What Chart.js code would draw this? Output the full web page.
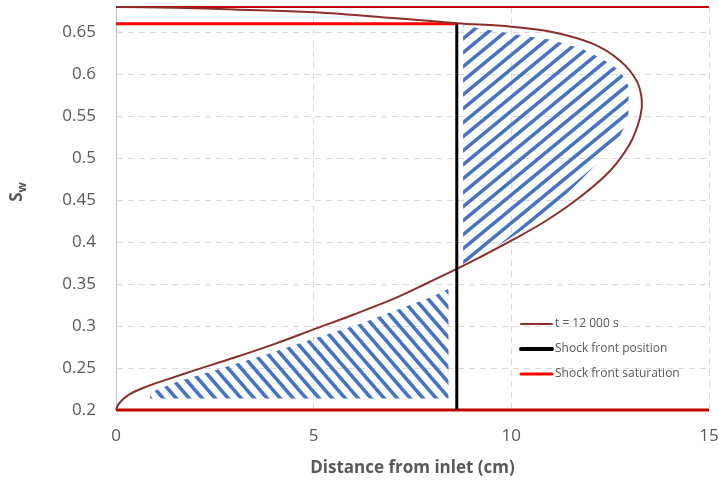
<!DOCTYPE html>
<html>
<head>
<meta charset="utf-8">
<script src="https://cdn.jsdelivr.net/npm/chart.js@4.4.0/dist/chart.umd.min.js"></script>
<style>
  html, body { margin: 0; padding: 0; background: #ffffff; }
  #wrap { width: 719px; height: 482px; }
</style>
</head>
<body>
<div id="wrap"><canvas id="chart" width="719" height="482"></canvas></div>
<script>
// Saturation profile at t = 12 000 s (distance in cm, water saturation Sw)
const profileX  = [0.00, 0.08, 0.30, 0.70, 1.30, 2.00, 3.00, 4.00, 5.00, 6.00, 7.00, 7.80, 8.62,
                   9.21, 10.01, 10.90, 11.74, 12.50, 13.00, 13.26, 13.30, 13.17, 12.75, 12.07,
                   11.06, 10.00, 8.62, 7.00, 5.00, 3.00, 1.50, 0.00];
const profileSw = [0.200, 0.208, 0.2175, 0.2265, 0.2365, 0.2475, 0.2625, 0.2785, 0.296, 0.3135, 0.332, 0.3495, 0.368,
                   0.382, 0.402, 0.426, 0.4536, 0.485, 0.517, 0.549, 0.569, 0.592, 0.616, 0.636,
                   0.650, 0.6565, 0.6607, 0.667, 0.6738, 0.677, 0.679, 0.680];

// Shock front
const shockFrontX  = 8.62;
const shockFrontSw = 0.66;

// Saturation range of the displacement (initial and injected)
const boundarySw = [0.2, 0.68];

// Equal-area regions on either side of the shock
const upperAreaX  = [8.78, 8.78, 10.00, 11.00, 11.80, 12.30, 12.75, 12.97, 12.96, 12.70, 12.41, 11.74, 11.06, 10.14, 9.55, 8.96];
const upperAreaSw = [0.374, 0.658, 0.648, 0.641, 0.630, 0.618, 0.604, 0.585, 0.547, 0.522, 0.505, 0.473, 0.442, 0.410, 0.392, 0.379];
const lowerAreaX  = [0.86, 0.86, 1.53, 2.63, 3.80, 5.00, 6.20, 7.18, 8.00, 8.41, 8.41];
const lowerAreaSw = [0.2136, 0.2205, 0.2333, 0.249, 0.266, 0.285, 0.303, 0.3207, 0.335, 0.3445, 0.2136];

// Axes
const xTickValues = [0, 5, 10, 15];
const yTickValues = [0.2, 0.25, 0.3, 0.35, 0.4, 0.45, 0.5, 0.55, 0.6, 0.65];
const xRange = [0, 15];
const seriesLabels = ['t = 12 000 s', 'Shock front position', 'Shock front saturation'];
const xTitle = 'Distance from inlet (cm)';

const zip = (xs, ys) => xs.map((x, i) => ({ x: x, y: ys[i] }));

// Seamless diagonal hatch tile
function stripes(dir, w, h, width, color) {
  const c = document.createElement('canvas');
  c.width = w; c.height = h;
  const g = c.getContext('2d');
  g.strokeStyle = color;
  g.lineWidth = width;
  for (let k = -2; k <= 2; k++) {
    g.beginPath();
    if (dir === '/') { g.moveTo(k * w - w, 2 * h); g.lineTo(k * w + 2 * w, -h); }
    else { g.moveTo(k * w - w, -h); g.lineTo(k * w + 2 * w, 2 * h); }
    g.stroke();
  }
  return g.createPattern(c, 'repeat');
}

const TEXT = '#595959';
const FONT = "'Open Sans', 'Liberation Sans', sans-serif";

// Legend drawn inside the plot area
const inlineLegend = {
  id: 'inlineLegend',
  afterDraw(chart, args, o) {
    const ctx = chart.ctx;
    const items = chart.data.datasets.filter(d => d.legendOrder !== undefined)
      .sort((a, b) => a.legendOrder - b.legendOrder);
    ctx.save();
    ctx.font = o.font;
    ctx.textBaseline = 'middle';
    items.forEach((d, i) => {
      const y = o.y + i * o.row;
      ctx.beginPath();
      ctx.strokeStyle = d.borderColor;
      ctx.lineWidth = d.legendWidth || d.borderWidth;
      ctx.lineCap = 'round';
      ctx.moveTo(o.x, y);
      ctx.lineTo(o.x + o.sample, y);
      ctx.stroke();
      ctx.fillStyle = TEXT;
      ctx.fillText(d.label, o.x + o.sample + o.gap, y);
    });
    ctx.restore();
  }
};

// Rotated y-axis title with subscript: S_w
const swTitle = {
  id: 'swTitle',
  afterDraw(chart, args, o) {
    const ctx = chart.ctx;
    ctx.save();
    ctx.translate(o.x, o.y);
    ctx.rotate(-Math.PI / 2);
    ctx.fillStyle = TEXT;
    ctx.textBaseline = 'alphabetic';
    ctx.font = 'bold 17px ' + FONT;
    const sw = ctx.measureText('S').width;
    ctx.font = 'bold 12px ' + FONT;
    const ww = ctx.measureText('w').width;
    const x0 = -(sw + ww) / 2;
    ctx.font = 'bold 17px ' + FONT;
    ctx.fillText('S', x0, 0);
    ctx.font = 'bold 12px ' + FONT;
    ctx.fillText('w', x0 + sw, 4);
    ctx.restore();
  }
};

const gridColor = '#d9d9d9';
const fmt = v => String(Math.round(v * 100) / 100);

new Chart(document.getElementById('chart'), {
  type: 'line',
  data: {
    datasets: [
      {
        label: seriesLabels[1], legendOrder: 1, legendWidth: 4,
        data: [{ x: shockFrontX, y: boundarySw[0] }, { x: shockFrontX, y: shockFrontSw }],
        borderColor: '#000000', borderWidth: 3, pointRadius: 0, fill: false, clip: false
      },
      {
        label: seriesLabels[0], legendOrder: 0,
        data: zip(profileX, profileSw),
        borderColor: '#8b2f27', borderWidth: 2, pointRadius: 0, fill: false, tension: 0.35, clip: false
      },
      {
        label: seriesLabels[2], legendOrder: 2, legendWidth: 3,
        data: [{ x: xRange[0], y: shockFrontSw }, { x: shockFrontX, y: shockFrontSw }],
        borderColor: '#ff0000', borderWidth: 3, pointRadius: 0, fill: false, clip: false
      },
      {
        data: [{ x: xRange[0], y: boundarySw[0] }, { x: xRange[1], y: boundarySw[0] }],
        borderColor: '#c00000', borderWidth: 3, pointRadius: 0, fill: false, clip: false
      },
      {
        data: [{ x: xRange[0], y: boundarySw[1] }, { x: xRange[1], y: boundarySw[1] }],
        borderColor: '#c00000', borderWidth: 2, pointRadius: 0, fill: false, clip: false
      },
      {
        data: zip(upperAreaX, upperAreaSw),
        borderColor: 'rgba(0,0,0,0)', borderWidth: 0, pointRadius: 0,
        fill: 'shape', backgroundColor: stripes('/', 17, 14, 3.5, '#4472c4')
      },
      {
        data: zip(lowerAreaX, lowerAreaSw),
        borderColor: 'rgba(0,0,0,0)', borderWidth: 0, pointRadius: 0,
        fill: 'shape', backgroundColor: stripes('\\', 13, 15, 3.5, '#4472c4')
      }
    ]
  },
  options: {
    responsive: false,
    animation: false,
    devicePixelRatio: 1,
    layout: { padding: { left: 0, right: 10, top: 7, bottom: 0 } },
    plugins: {
      legend: { display: false },
      tooltip: { enabled: false },
      inlineLegend: { x: 521, y: 324, row: 25, sample: 31, gap: 3, font: '12px ' + FONT },
      swTitle: { x: 22, y: 192 }
    },
    scales: {
      x: {
        type: 'linear',
        min: xRange[0], max: xRange[1],
        afterBuildTicks: s => { s.ticks = xTickValues.map(v => ({ value: v })); },
        afterFit: s => { s.height = 72; s.paddingLeft = 0; s.paddingRight = 0; },
        grid: { color: c => (c.tick && c.tick.value === 0 ? 'rgba(0,0,0,0)' : gridColor), lineWidth: 1, drawTicks: false },
        border: { display: false, dash: [6, 5] },
        ticks: { color: TEXT, font: { family: FONT, size: 17 }, padding: 16, maxRotation: 0, callback: fmt },
        title: { display: true, text: xTitle, color: TEXT, font: { family: FONT, size: 17, weight: 'bold' }, padding: { top: 6, bottom: 4 } }
      },
      y: {
        type: 'linear',
        min: boundarySw[0], max: boundarySw[1],
        afterBuildTicks: s => { s.ticks = yTickValues.map(v => ({ value: v })); },
        afterFit: s => { s.width = 116; s.paddingTop = 0; s.paddingBottom = 0; },
        grid: { color: gridColor, lineWidth: 1, drawTicks: false },
        border: { display: true, color: '#bfbfbf', width: 1, dash: [6, 5] },
        ticks: { color: TEXT, font: { family: FONT, size: 17 }, padding: 20, callback: fmt }
      }
    }
  },
  plugins: [inlineLegend, swTitle]
});
</script>
</body>
</html>
